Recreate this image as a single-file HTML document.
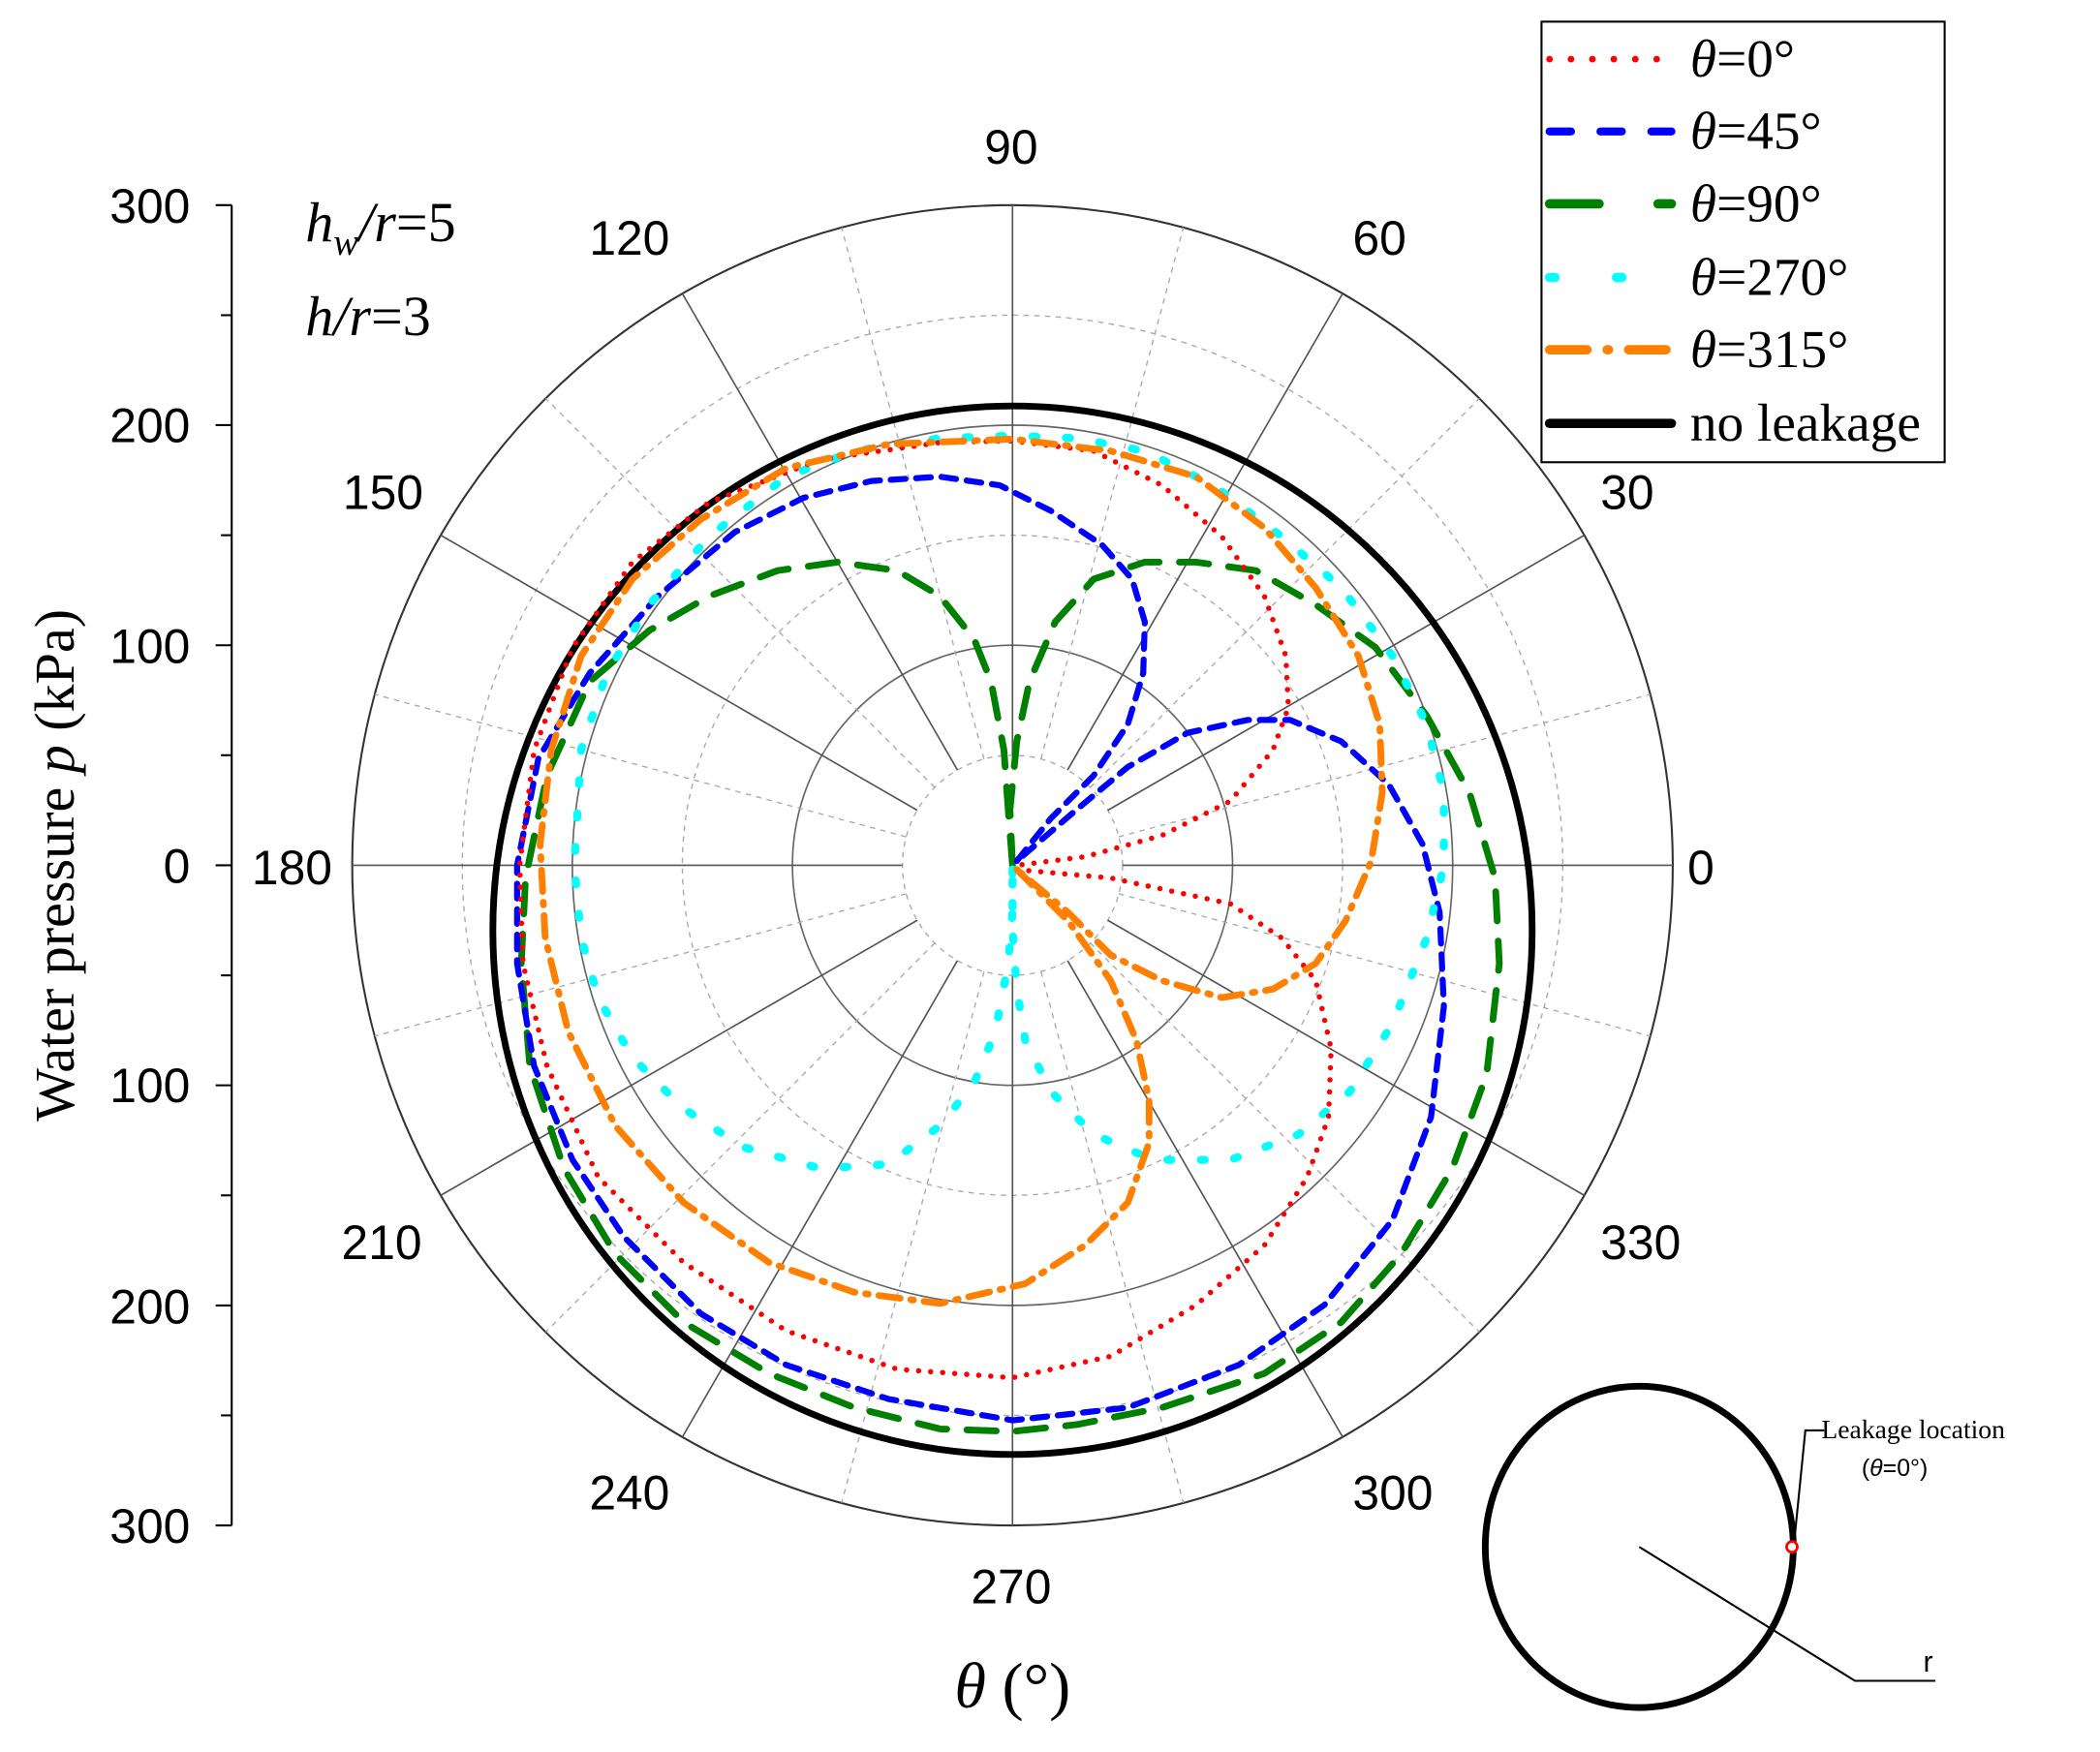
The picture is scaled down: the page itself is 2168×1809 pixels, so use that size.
<!DOCTYPE html>
<html><head><meta charset="utf-8"><style>html,body{margin:0;padding:0;background:#fff}svg{display:block}</style></head>
<body>
<svg width="2168" height="1809" viewBox="0 0 1568 1308" xmlns="http://www.w3.org/2000/svg" font-family="Liberation Sans, sans-serif">
<rect width="1568" height="1308" fill="#fff"/>
<g fill="none">
<circle cx="756" cy="646" r="82.17" stroke="#aaa" stroke-width="1" stroke-dasharray="4 4"/>
<circle cx="756" cy="646" r="164.33" stroke="#666" stroke-width="1.2"/>
<circle cx="756" cy="646" r="246.5" stroke="#aaa" stroke-width="1" stroke-dasharray="4 4"/>
<circle cx="756" cy="646" r="328.67" stroke="#666" stroke-width="1.2"/>
<circle cx="756" cy="646" r="410.83" stroke="#aaa" stroke-width="1" stroke-dasharray="4 4"/>
<circle cx="756" cy="646" r="493" stroke="#333" stroke-width="1.5"/>
</g>
<g stroke="#555" stroke-width="1.2">
<line x1="838.17" y1="646" x2="1249" y2="646" transform="rotate(0 756 646)"/>
<line x1="838.17" y1="646" x2="1249" y2="646" transform="rotate(-30 756 646)"/>
<line x1="838.17" y1="646" x2="1249" y2="646" transform="rotate(-60 756 646)"/>
<line x1="838.17" y1="646" x2="1249" y2="646" transform="rotate(-90 756 646)"/>
<line x1="838.17" y1="646" x2="1249" y2="646" transform="rotate(-120 756 646)"/>
<line x1="838.17" y1="646" x2="1249" y2="646" transform="rotate(-150 756 646)"/>
<line x1="838.17" y1="646" x2="1249" y2="646" transform="rotate(-180 756 646)"/>
<line x1="838.17" y1="646" x2="1249" y2="646" transform="rotate(-210 756 646)"/>
<line x1="838.17" y1="646" x2="1249" y2="646" transform="rotate(-240 756 646)"/>
<line x1="838.17" y1="646" x2="1249" y2="646" transform="rotate(-270 756 646)"/>
<line x1="838.17" y1="646" x2="1249" y2="646" transform="rotate(-300 756 646)"/>
<line x1="838.17" y1="646" x2="1249" y2="646" transform="rotate(-330 756 646)"/>
</g>
<g stroke="#aaa" stroke-width="1" stroke-dasharray="4 4">
<line x1="838.17" y1="646" x2="1249" y2="646" transform="rotate(-15 756 646)"/>
<line x1="838.17" y1="646" x2="1249" y2="646" transform="rotate(-45 756 646)"/>
<line x1="838.17" y1="646" x2="1249" y2="646" transform="rotate(-75 756 646)"/>
<line x1="838.17" y1="646" x2="1249" y2="646" transform="rotate(-105 756 646)"/>
<line x1="838.17" y1="646" x2="1249" y2="646" transform="rotate(-135 756 646)"/>
<line x1="838.17" y1="646" x2="1249" y2="646" transform="rotate(-165 756 646)"/>
<line x1="838.17" y1="646" x2="1249" y2="646" transform="rotate(-195 756 646)"/>
<line x1="838.17" y1="646" x2="1249" y2="646" transform="rotate(-225 756 646)"/>
<line x1="838.17" y1="646" x2="1249" y2="646" transform="rotate(-255 756 646)"/>
<line x1="838.17" y1="646" x2="1249" y2="646" transform="rotate(-285 756 646)"/>
<line x1="838.17" y1="646" x2="1249" y2="646" transform="rotate(-315 756 646)"/>
<line x1="838.17" y1="646" x2="1249" y2="646" transform="rotate(-345 756 646)"/>
</g>
<g fill="none" stroke-linecap="round" stroke-linejoin="round">
<ellipse cx="756" cy="694.5" rx="388" ry="391.5" stroke="#000" stroke-width="5"/>
<path stroke="#008000" stroke-width="5" stroke-dasharray="22 15" d="M756,646 L754.1,604.5 L759.2,553.5 L768.7,508.8 L787.9,464.2 L816.6,432.3 L854.8,419.6 L893.1,419.6 L937.7,425.9 L982.4,451.4 L1027,483.3 L1065.3,534.4 L1097.2,591.8 L1116.3,655.5 L1119.5,719.3 L1110,802.3 L1084.4,872.4 L1046.2,936.2 L1001.5,987.2 L944.1,1025.5 L867.6,1051 L803.8,1063.7 L756,1068.8 L701.8,1066.9 L638,1051 L574.2,1025.5 L510.4,987.2 L459.4,936.2 L421.1,872.4 L395.6,795.9 L389.2,719.3 L392.4,655.5 L408.4,579 L440.3,508.8 L484.9,470.6 L529.5,445 L580.6,425.9 L625.2,419.6 L669.9,425.9 L701.8,445 L727.3,477 L740,508.8 L749.6,559.9 L752.8,604.5 L756,646"/>
<path stroke="#00f" stroke-width="4.5" stroke-dasharray="11 8" d="M759.2,642.8 L784.7,610.9 L816.6,579 L842.1,540.7 L853.6,502.5 L854.8,464.2 L845.3,432.3 L822.9,406.8 L784.7,381.3 L746.4,362.2 L701.8,355.8 L650.7,359 L599.7,371.7 L548.7,397.2 L491.3,445 L440.3,502.5 L402,566.2 L386.1,646 L386.1,719.3 L398.8,795.9 L427.5,866 L465.8,923.4 L523.2,980.8 L587,1019.1 L663.5,1044.6 L756,1060.5 L842.1,1051 L925,1019.1 L988.8,974.4 L1039.8,910.7 L1068.5,834.1 L1078.1,751.2 L1074.9,681 L1062.1,630.1 L1036.8,585.4 L1001.5,553.5 L963.3,537.5 L931.4,537.5 L886.7,547.1 L842.1,572.6 L803.8,604.5 L759.2,642.8"/>
<path stroke="#0ff" stroke-width="6" stroke-dasharray="3 22" d="M756,649.2 L756,693.8 L759.2,738.5 L765.5,776.7 L784.7,815 L816.6,846.9 L861.2,866 L918.6,866 L969.7,846.9 L1007.9,815 L1039.8,764 L1065.3,700.2 L1078.1,646 L1078.1,591.8 L1065.3,540.7 L1039.8,489.7 L1001.5,438.7 L956.9,400.4 L905.9,362.2 L854.8,336.6 L803.8,327.1 L756,325.2 L701.8,327.1 L638,336.6 L587,355.8 L529.5,400.4 L484.9,451.4 L453,502.5 L433.9,559.9 L428.8,646 L433.9,700.2 L446.6,744.8 L472.2,789.5 L510.4,827.7 L555,856.5 L612.5,872.4 L663.5,869.2 L701.8,840.5 L727.3,808.6 L743.2,770.3 L752.8,719.3 L756,681.1 L756,649"/>
<path stroke="#f00" stroke-width="4" stroke-dasharray="0 9" d="M759.2,649.2 L829.3,655.5 L918.6,674.7 L956.9,700.2 L982.4,732.1 L993.9,783.1 L992,834.1 L976,878.8 L944.1,929.8 L893.1,974.4 L829.3,1012.7 L756,1028.7 L669.9,1022.3 L587,993.6 L510.4,942.6 L446.6,878.8 L408.4,795.9 L390.5,719.3 L388,646 L398.8,559.9 L427.5,483.3 L472.2,419.6 L529.5,374.9 L612.5,343 L701.8,330.3 L756,329 L816.6,336.6 L867.6,362.2 L912.2,400.4 L944.1,445 L960.1,489.7 L962,528 L950.5,559.9 L918.6,598.1 L867.6,623.7 L810.2,639.6 L759.2,646"/>
<path stroke="#ff8000" stroke-width="5" stroke-dasharray="16 8 2 8" d="M759.2,649.2 L797.4,687.4 L829.3,732.1 L848.5,776.7 L858,821.4 L858,853.3 L842.1,897.9 L810.2,929.8 L765.5,958.5 L701.8,973.2 L638,964.9 L574.2,942.6 L510.4,897.9 L459.4,840.5 L424.3,770.3 L407.1,700.2 L403.3,630.1 L411.6,559.9 L433.9,489.7 L472.2,432.3 L523.2,387.7 L587,349.4 L663.5,331.5 L756,327.7 L829.3,336.6 L893.1,355.8 L944.1,394 L982.4,438.7 L1014.3,489.7 L1030.2,540.7 L1032.1,591.8 L1023.9,642.8 L1004.7,687.4 L982.4,719.3 L950.5,738.5 L912.2,744.8 L867.6,732.1 L829.3,713 L797.4,681.1 L759.2,649.2"/>
</g>
<g stroke="#000" stroke-width="1.5">
<line x1="173" y1="153" x2="173" y2="1139"/>
<line x1="161" y1="153" x2="173" y2="153"/><line x1="165" y1="235.2" x2="173" y2="235.2"/>
<line x1="161" y1="317.3" x2="173" y2="317.3"/><line x1="165" y1="399.5" x2="173" y2="399.5"/>
<line x1="161" y1="481.7" x2="173" y2="481.7"/><line x1="165" y1="563.8" x2="173" y2="563.8"/>
<line x1="161" y1="646" x2="173" y2="646"/><line x1="165" y1="728.2" x2="173" y2="728.2"/>
<line x1="161" y1="810.3" x2="173" y2="810.3"/><line x1="165" y1="892.5" x2="173" y2="892.5"/>
<line x1="161" y1="974.7" x2="173" y2="974.7"/><line x1="165" y1="1056.8" x2="173" y2="1056.8"/>
<line x1="161" y1="1139" x2="173" y2="1139"/>
</g>
<g font-size="36" text-anchor="end" fill="#000">
<text x="142" y="166">300</text><text x="142" y="330">200</text><text x="142" y="495">100</text>
<text x="142" y="659">0</text><text x="142" y="823">100</text><text x="142" y="988">200</text><text x="142" y="1152">300</text>
</g>
<g font-size="36" text-anchor="middle" fill="#000">
<text x="755" y="122">90</text><text x="1030" y="190">60</text><text x="1215" y="380">30</text>
<text x="1270" y="660">0</text><text x="1225" y="940">330</text><text x="1040" y="1127">300</text>
<text x="755" y="1197">270</text><text x="470" y="1127">240</text><text x="285" y="940">210</text>
<text x="218" y="660">180</text><text x="286" y="380">150</text><text x="470" y="190">120</text>
</g>
<g font-family="Liberation Serif, serif" font-size="42" fill="#000">
<text x="228" y="180"><tspan font-style="italic">h</tspan><tspan font-style="italic" font-size="28" dy="10">w</tspan><tspan font-style="italic" dy="-10">/r</tspan>=5</text>
<text x="228" y="250"><tspan font-style="italic">h/r</tspan>=3</text>
</g>
<text transform="translate(55,646) rotate(-90)" text-anchor="middle" font-family="Liberation Serif, serif" font-size="42">Water pressure <tspan font-style="italic">p</tspan> (kPa)</text>
<text x="756" y="1275" text-anchor="middle" font-family="Liberation Serif, serif" font-size="48"><tspan font-style="italic">θ</tspan> (°)</text>
<rect x="1151" y="16" width="301" height="329" fill="#fff" stroke="#000" stroke-width="1.5"/>
<g stroke-linecap="round" fill="none">
<line x1="1157" y1="44" x2="1245" y2="44" stroke="#f00" stroke-width="5" stroke-dasharray="0 16"/>
<line x1="1157" y1="98" x2="1248" y2="98" stroke="#00f" stroke-width="6" stroke-dasharray="16 22"/>
<line x1="1157" y1="152" x2="1248" y2="152" stroke="#008000" stroke-width="7" stroke-dasharray="37 44"/>
<line x1="1157" y1="207" x2="1243" y2="207" stroke="#0ff" stroke-width="7" stroke-dasharray="4 46"/>
<line x1="1157" y1="261" x2="1245" y2="261" stroke="#ff8000" stroke-width="7" stroke-dasharray="28 15 1 15"/>
<line x1="1157" y1="316" x2="1248" y2="316" stroke="#000" stroke-width="7"/>
</g>
<g font-family="Liberation Serif, serif" font-size="40" fill="#000">
<text x="1262" y="57"><tspan font-style="italic">θ</tspan>=0°</text>
<text x="1262" y="111"><tspan font-style="italic">θ</tspan>=45°</text>
<text x="1262" y="165"><tspan font-style="italic">θ</tspan>=90°</text>
<text x="1262" y="220"><tspan font-style="italic">θ</tspan>=270°</text>
<text x="1262" y="274"><tspan font-style="italic">θ</tspan>=315°</text>
<text x="1262" y="329">no leakage</text>
</g>
<ellipse cx="1224" cy="1155" rx="115" ry="120" fill="none" stroke="#000" stroke-width="5"/>
<circle cx="1338" cy="1155" r="4" fill="#fff" stroke="#f00" stroke-width="2"/>
<polyline points="1224,1155 1385,1255 1445,1255" fill="none" stroke="#000" stroke-width="1.5"/>
<polyline points="1340,1148 1348,1068 1362,1068" fill="none" stroke="#000" stroke-width="1.5"/>
<text x="1360" y="1074" font-family="Liberation Serif, serif" font-size="20">Leakage location</text>
<text x="1390" y="1102" font-size="18">(<tspan font-style="italic">θ</tspan>=0°)</text>
<text x="1436" y="1248" font-size="22">r</text>
</svg>
</body></html>
